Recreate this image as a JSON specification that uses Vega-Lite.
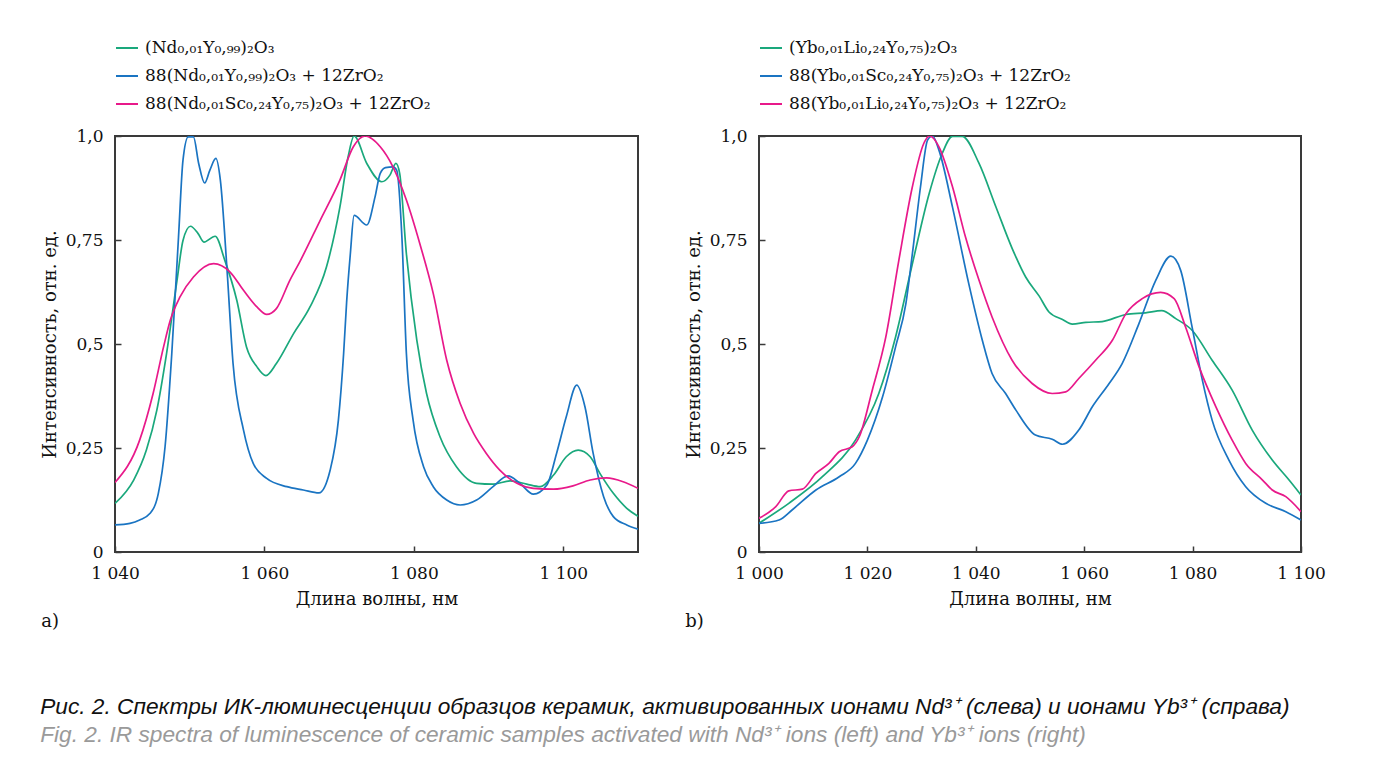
{
  "$schema": "https://vega.github.io/schema/vega-lite/v6.json",
  "background": "white",
  "padding": {"left": 40, "top": 35, "right": 5, "bottom": 5},
  "datasets": {
    "left": [
      {"wl": 1040, "i": 0.117, "s": "g"}, {"wl": 1042.5, "i": 0.173, "s": "g"}, {"wl": 1044.2, "i": 0.245, "s": "g"}, {"wl": 1045.6, "i": 0.341, "s": "g"}, {"wl": 1046.9, "i": 0.477, "s": "g"}, {"wl": 1048.3, "i": 0.653, "s": "g"}, {"wl": 1049.1, "i": 0.749, "s": "g"}, {"wl": 1050.1, "i": 0.783, "s": "g"}, {"wl": 1051.1, "i": 0.766, "s": "g"}, {"wl": 1051.9, "i": 0.745, "s": "g"}, {"wl": 1053.4, "i": 0.759, "s": "g"}, {"wl": 1054.7, "i": 0.701, "s": "g"}, {"wl": 1056.3, "i": 0.605, "s": "g"}, {"wl": 1057.6, "i": 0.493, "s": "g"}, {"wl": 1059.0, "i": 0.445, "s": "g"}, {"wl": 1060.2, "i": 0.424, "s": "g"}, {"wl": 1061.6, "i": 0.453, "s": "g"}, {"wl": 1063.9, "i": 0.525, "s": "g"}, {"wl": 1066.1, "i": 0.589, "s": "g"}, {"wl": 1068.3, "i": 0.685, "s": "g"}, {"wl": 1070.1, "i": 0.829, "s": "g"}, {"wl": 1071.2, "i": 0.95, "s": "g"}, {"wl": 1072.0, "i": 1.0, "s": "g"}, {"wl": 1073.7, "i": 0.934, "s": "g"}, {"wl": 1075.7, "i": 0.89, "s": "g"}, {"wl": 1076.8, "i": 0.906, "s": "g"}, {"wl": 1077.6, "i": 0.934, "s": "g"}, {"wl": 1078.1, "i": 0.91, "s": "g"}, {"wl": 1079.0, "i": 0.717, "s": "g"}, {"wl": 1080.4, "i": 0.509, "s": "g"}, {"wl": 1081.7, "i": 0.381, "s": "g"}, {"wl": 1083.5, "i": 0.277, "s": "g"}, {"wl": 1085.7, "i": 0.205, "s": "g"}, {"wl": 1088.4, "i": 0.165, "s": "g"}, {"wl": 1090.6, "i": 0.163, "s": "g"}, {"wl": 1092.9, "i": 0.171, "s": "g"}, {"wl": 1095.1, "i": 0.163, "s": "g"}, {"wl": 1096.9, "i": 0.157, "s": "g"}, {"wl": 1098.7, "i": 0.185, "s": "g"}, {"wl": 1100.4, "i": 0.229, "s": "g"}, {"wl": 1102.0, "i": 0.245, "s": "g"}, {"wl": 1103.6, "i": 0.229, "s": "g"}, {"wl": 1104.9, "i": 0.189, "s": "g"}, {"wl": 1106.7, "i": 0.141, "s": "g"}, {"wl": 1108.5, "i": 0.105, "s": "g"}, {"wl": 1110, "i": 0.086, "s": "g"},
      {"wl": 1040, "i": 0.065, "s": "b"}, {"wl": 1042.0, "i": 0.069, "s": "b"}, {"wl": 1043.3, "i": 0.077, "s": "b"}, {"wl": 1044.7, "i": 0.093, "s": "b"}, {"wl": 1045.8, "i": 0.141, "s": "b"}, {"wl": 1046.7, "i": 0.253, "s": "b"}, {"wl": 1047.6, "i": 0.477, "s": "b"}, {"wl": 1048.5, "i": 0.757, "s": "b"}, {"wl": 1049.1, "i": 0.942, "s": "b"}, {"wl": 1049.8, "i": 0.998, "s": "b"}, {"wl": 1050.5, "i": 0.998, "s": "b"}, {"wl": 1051.2, "i": 0.934, "s": "b"}, {"wl": 1052.0, "i": 0.887, "s": "b"}, {"wl": 1052.7, "i": 0.918, "s": "b"}, {"wl": 1053.5, "i": 0.946, "s": "b"}, {"wl": 1054.1, "i": 0.894, "s": "b"}, {"wl": 1055.0, "i": 0.677, "s": "b"}, {"wl": 1055.8, "i": 0.453, "s": "b"}, {"wl": 1057.2, "i": 0.293, "s": "b"}, {"wl": 1058.5, "i": 0.213, "s": "b"}, {"wl": 1060.3, "i": 0.177, "s": "b"}, {"wl": 1063.0, "i": 0.157, "s": "b"}, {"wl": 1065.2, "i": 0.149, "s": "b"}, {"wl": 1067.3, "i": 0.142, "s": "b"}, {"wl": 1068.8, "i": 0.197, "s": "b"}, {"wl": 1069.9, "i": 0.317, "s": "b"}, {"wl": 1070.6, "i": 0.477, "s": "b"}, {"wl": 1071.0, "i": 0.6, "s": "b"}, {"wl": 1071.5, "i": 0.717, "s": "b"}, {"wl": 1072.0, "i": 0.809, "s": "b"}, {"wl": 1073.7, "i": 0.786, "s": "b"}, {"wl": 1074.8, "i": 0.853, "s": "b"}, {"wl": 1075.5, "i": 0.91, "s": "b"}, {"wl": 1076.2, "i": 0.924, "s": "b"}, {"wl": 1077.2, "i": 0.926, "s": "b"}, {"wl": 1077.7, "i": 0.918, "s": "b"}, {"wl": 1078.4, "i": 0.757, "s": "b"}, {"wl": 1079.0, "i": 0.477, "s": "b"}, {"wl": 1079.9, "i": 0.317, "s": "b"}, {"wl": 1081.3, "i": 0.205, "s": "b"}, {"wl": 1082.6, "i": 0.157, "s": "b"}, {"wl": 1084.4, "i": 0.125, "s": "b"}, {"wl": 1086.2, "i": 0.113, "s": "b"}, {"wl": 1088.4, "i": 0.125, "s": "b"}, {"wl": 1090.6, "i": 0.157, "s": "b"}, {"wl": 1092.6, "i": 0.183, "s": "b"}, {"wl": 1094.2, "i": 0.165, "s": "b"}, {"wl": 1096.0, "i": 0.139, "s": "b"}, {"wl": 1097.8, "i": 0.161, "s": "b"}, {"wl": 1099.1, "i": 0.237, "s": "b"}, {"wl": 1100.4, "i": 0.325, "s": "b"}, {"wl": 1101.8, "i": 0.401, "s": "b"}, {"wl": 1102.9, "i": 0.349, "s": "b"}, {"wl": 1104.0, "i": 0.237, "s": "b"}, {"wl": 1105.4, "i": 0.133, "s": "b"}, {"wl": 1106.7, "i": 0.085, "s": "b"}, {"wl": 1108.5, "i": 0.065, "s": "b"}, {"wl": 1110, "i": 0.055, "s": "b"},
      {"wl": 1040, "i": 0.167, "s": "p"}, {"wl": 1043.3, "i": 0.269, "s": "p"}, {"wl": 1045.1, "i": 0.381, "s": "p"}, {"wl": 1046.5, "i": 0.493, "s": "p"}, {"wl": 1047.4, "i": 0.557, "s": "p"}, {"wl": 1048.7, "i": 0.613, "s": "p"}, {"wl": 1050.5, "i": 0.661, "s": "p"}, {"wl": 1053.2, "i": 0.693, "s": "p"}, {"wl": 1055.4, "i": 0.673, "s": "p"}, {"wl": 1057.2, "i": 0.629, "s": "p"}, {"wl": 1059.0, "i": 0.589, "s": "p"}, {"wl": 1060.3, "i": 0.571, "s": "p"}, {"wl": 1061.6, "i": 0.585, "s": "p"}, {"wl": 1063.4, "i": 0.653, "s": "p"}, {"wl": 1064.8, "i": 0.7, "s": "p"}, {"wl": 1067.4, "i": 0.795, "s": "p"}, {"wl": 1070.1, "i": 0.894, "s": "p"}, {"wl": 1071.9, "i": 0.974, "s": "p"}, {"wl": 1073.5, "i": 1.0, "s": "p"}, {"wl": 1075.5, "i": 0.974, "s": "p"}, {"wl": 1077.2, "i": 0.926, "s": "p"}, {"wl": 1079.0, "i": 0.846, "s": "p"}, {"wl": 1080.8, "i": 0.741, "s": "p"}, {"wl": 1082.6, "i": 0.621, "s": "p"}, {"wl": 1084.4, "i": 0.461, "s": "p"}, {"wl": 1086.2, "i": 0.357, "s": "p"}, {"wl": 1088.0, "i": 0.285, "s": "p"}, {"wl": 1089.7, "i": 0.237, "s": "p"}, {"wl": 1091.5, "i": 0.197, "s": "p"}, {"wl": 1093.8, "i": 0.165, "s": "p"}, {"wl": 1096.0, "i": 0.153, "s": "p"}, {"wl": 1098.7, "i": 0.151, "s": "p"}, {"wl": 1101.3, "i": 0.159, "s": "p"}, {"wl": 1103.6, "i": 0.173, "s": "p"}, {"wl": 1105.8, "i": 0.178, "s": "p"}, {"wl": 1108.0, "i": 0.169, "s": "p"}, {"wl": 1110, "i": 0.153, "s": "p"}
    ],
    "right": [
      {"wl": 1000, "i": 0.069, "s": "g"}, {"wl": 1005.5, "i": 0.117, "s": "g"}, {"wl": 1011.7, "i": 0.181, "s": "g"}, {"wl": 1017.8, "i": 0.269, "s": "g"}, {"wl": 1022.1, "i": 0.381, "s": "g"}, {"wl": 1025.2, "i": 0.517, "s": "g"}, {"wl": 1028.3, "i": 0.693, "s": "g"}, {"wl": 1031.4, "i": 0.862, "s": "g"}, {"wl": 1033.8, "i": 0.958, "s": "g"}, {"wl": 1035.7, "i": 0.999, "s": "g"}, {"wl": 1037.5, "i": 0.999, "s": "g"}, {"wl": 1040.6, "i": 0.934, "s": "g"}, {"wl": 1043.7, "i": 0.83, "s": "g"}, {"wl": 1046.7, "i": 0.73, "s": "g"}, {"wl": 1049.2, "i": 0.661, "s": "g"}, {"wl": 1051.7, "i": 0.615, "s": "g"}, {"wl": 1053.5, "i": 0.577, "s": "g"}, {"wl": 1056.0, "i": 0.559, "s": "g"}, {"wl": 1057.8, "i": 0.548, "s": "g"}, {"wl": 1060.3, "i": 0.552, "s": "g"}, {"wl": 1063.3, "i": 0.554, "s": "g"}, {"wl": 1067.7, "i": 0.571, "s": "g"}, {"wl": 1071.3, "i": 0.575, "s": "g"}, {"wl": 1074.3, "i": 0.58, "s": "g"}, {"wl": 1076.9, "i": 0.561, "s": "g"}, {"wl": 1079.9, "i": 0.533, "s": "g"}, {"wl": 1083.6, "i": 0.461, "s": "g"}, {"wl": 1087.3, "i": 0.389, "s": "g"}, {"wl": 1091.0, "i": 0.293, "s": "g"}, {"wl": 1094.7, "i": 0.221, "s": "g"}, {"wl": 1097.8, "i": 0.173, "s": "g"}, {"wl": 1100, "i": 0.137, "s": "g"},
      {"wl": 1000, "i": 0.069, "s": "b"}, {"wl": 1003.7, "i": 0.077, "s": "b"}, {"wl": 1006.1, "i": 0.101, "s": "b"}, {"wl": 1010.5, "i": 0.149, "s": "b"}, {"wl": 1014.8, "i": 0.181, "s": "b"}, {"wl": 1017.8, "i": 0.213, "s": "b"}, {"wl": 1020.0, "i": 0.269, "s": "b"}, {"wl": 1022.8, "i": 0.373, "s": "b"}, {"wl": 1025.2, "i": 0.493, "s": "b"}, {"wl": 1027.1, "i": 0.597, "s": "b"}, {"wl": 1028.3, "i": 0.717, "s": "b"}, {"wl": 1029.8, "i": 0.878, "s": "b"}, {"wl": 1031.1, "i": 0.99, "s": "b"}, {"wl": 1032.0, "i": 1.0, "s": "b"}, {"wl": 1033.2, "i": 0.966, "s": "b"}, {"wl": 1035.7, "i": 0.829, "s": "b"}, {"wl": 1038.7, "i": 0.645, "s": "b"}, {"wl": 1041.2, "i": 0.509, "s": "b"}, {"wl": 1043.0, "i": 0.429, "s": "b"}, {"wl": 1045.5, "i": 0.381, "s": "b"}, {"wl": 1047.4, "i": 0.341, "s": "b"}, {"wl": 1051.0, "i": 0.281, "s": "b"}, {"wl": 1054.1, "i": 0.271, "s": "b"}, {"wl": 1056.0, "i": 0.259, "s": "b"}, {"wl": 1059.0, "i": 0.293, "s": "b"}, {"wl": 1061.5, "i": 0.349, "s": "b"}, {"wl": 1064.6, "i": 0.405, "s": "b"}, {"wl": 1067.0, "i": 0.453, "s": "b"}, {"wl": 1070.1, "i": 0.549, "s": "b"}, {"wl": 1073.2, "i": 0.653, "s": "b"}, {"wl": 1076.0, "i": 0.711, "s": "b"}, {"wl": 1077.8, "i": 0.677, "s": "b"}, {"wl": 1079.9, "i": 0.541, "s": "b"}, {"wl": 1081.8, "i": 0.413, "s": "b"}, {"wl": 1083.6, "i": 0.317, "s": "b"}, {"wl": 1086.7, "i": 0.221, "s": "b"}, {"wl": 1089.8, "i": 0.157, "s": "b"}, {"wl": 1093.5, "i": 0.117, "s": "b"}, {"wl": 1097.2, "i": 0.097, "s": "b"}, {"wl": 1100, "i": 0.077, "s": "b"},
      {"wl": 1000, "i": 0.081, "s": "p"}, {"wl": 1003.1, "i": 0.109, "s": "p"}, {"wl": 1005.5, "i": 0.147, "s": "p"}, {"wl": 1008.0, "i": 0.151, "s": "p"}, {"wl": 1010.5, "i": 0.189, "s": "p"}, {"wl": 1012.9, "i": 0.213, "s": "p"}, {"wl": 1014.8, "i": 0.241, "s": "p"}, {"wl": 1017.2, "i": 0.253, "s": "p"}, {"wl": 1018.5, "i": 0.277, "s": "p"}, {"wl": 1020.9, "i": 0.389, "s": "p"}, {"wl": 1023.4, "i": 0.517, "s": "p"}, {"wl": 1025.8, "i": 0.701, "s": "p"}, {"wl": 1028.3, "i": 0.878, "s": "p"}, {"wl": 1030.4, "i": 0.982, "s": "p"}, {"wl": 1031.5, "i": 1.0, "s": "p"}, {"wl": 1033.2, "i": 0.974, "s": "p"}, {"wl": 1035.7, "i": 0.878, "s": "p"}, {"wl": 1038.1, "i": 0.757, "s": "p"}, {"wl": 1040.6, "i": 0.653, "s": "p"}, {"wl": 1043.0, "i": 0.565, "s": "p"}, {"wl": 1046.7, "i": 0.461, "s": "p"}, {"wl": 1050.4, "i": 0.405, "s": "p"}, {"wl": 1054.1, "i": 0.381, "s": "p"}, {"wl": 1056.6, "i": 0.385, "s": "p"}, {"wl": 1059.0, "i": 0.417, "s": "p"}, {"wl": 1062.1, "i": 0.461, "s": "p"}, {"wl": 1065.2, "i": 0.509, "s": "p"}, {"wl": 1067.7, "i": 0.573, "s": "p"}, {"wl": 1070.7, "i": 0.609, "s": "p"}, {"wl": 1074.1, "i": 0.624, "s": "p"}, {"wl": 1076.6, "i": 0.609, "s": "p"}, {"wl": 1078.7, "i": 0.541, "s": "p"}, {"wl": 1081.2, "i": 0.445, "s": "p"}, {"wl": 1084.3, "i": 0.349, "s": "p"}, {"wl": 1087.3, "i": 0.269, "s": "p"}, {"wl": 1089.8, "i": 0.213, "s": "p"}, {"wl": 1092.9, "i": 0.173, "s": "p"}, {"wl": 1094.7, "i": 0.149, "s": "p"}, {"wl": 1097.2, "i": 0.133, "s": "p"}, {"wl": 1100, "i": 0.097, "s": "p"}
    ]
  },
  "title": {
    "text": "Рис. 2. Спектры ИК-люминесценции образцов керамик, активированных ионами Nd³⁺ (слева) и ионами Yb³⁺ (справа)",
    "subtitle": "Fig. 2. IR spectra of luminescence of ceramic samples activated with Nd³⁺ ions (left) and Yb³⁺ ions (right)",
    "orient": "bottom",
    "anchor": "start",
    "frame": "bounds",
    "offset": 64,
    "font": "Liberation Sans",
    "fontStyle": "italic",
    "fontWeight": "normal",
    "fontSize": 22.7,
    "color": "#111111",
    "subtitleFont": "Liberation Sans",
    "subtitleFontStyle": "italic",
    "subtitleFontSize": 22.7,
    "subtitleColor": "#9a9a9a",
    "subtitlePadding": 5
  },
  "hconcat": [
    {
      "width": 523,
      "height": 416,
      "data": {"name": "left"},
      "title": {"text": "a)", "orient": "bottom", "anchor": "start", "frame": "bounds", "offset": 5},
      "mark": {"type": "line", "interpolate": "monotone", "strokeWidth": 1.7, "clip": true},
      "encoding": {
        "x": {"field": "wl", "type": "quantitative", "scale": {"domain": [1040, 1110], "nice": false, "zero": false},
              "axis": {"title": "Длина волны, нм", "values": [1040, 1060, 1080, 1100], "labelExpr": "replace(format(datum.value, ','), ',', ' ')"}},
        "y": {"field": "i", "type": "quantitative", "scale": {"domain": [0, 1], "nice": false},
              "axis": {"title": "Интенсивность, отн. ед.", "values": [0, 0.25, 0.5, 0.75, 1], "labelExpr": "datum.value == 1 ? '1,0' : replace(toString(datum.value), '.', ',')"}},
        "color": {"field": "s", "type": "nominal",
                  "scale": {"domain": ["g", "b", "p"], "range": ["#1aa87c", "#1a74c2", "#e8198a"]},
                  "legend": {"labelExpr": "datum.label == 'g' ? '(Nd₀,₀₁Y₀,₉₉)₂O₃' : datum.label == 'b' ? '88(Nd₀,₀₁Y₀,₉₉)₂O₃ + 12ZrO₂' : '88(Nd₀,₀₁Sc₀,₂₄Y₀,₇₅)₂O₃ + 12ZrO₂'"}}
      }
    },
    {
      "width": 542,
      "height": 416,
      "data": {"name": "right"},
      "title": {"text": "b)", "orient": "bottom", "anchor": "start", "frame": "bounds", "offset": 5},
      "mark": {"type": "line", "interpolate": "monotone", "strokeWidth": 1.7, "clip": true},
      "encoding": {
        "x": {"field": "wl", "type": "quantitative", "scale": {"domain": [1000, 1100], "nice": false, "zero": false},
              "axis": {"title": "Длина волны, нм", "values": [1000, 1020, 1040, 1060, 1080, 1100], "labelExpr": "replace(format(datum.value, ','), ',', ' ')"}},
        "y": {"field": "i", "type": "quantitative", "scale": {"domain": [0, 1], "nice": false},
              "axis": {"title": "Интенсивность, отн. ед.", "values": [0, 0.25, 0.5, 0.75, 1], "labelExpr": "datum.value == 1 ? '1,0' : replace(toString(datum.value), '.', ',')"}},
        "color": {"field": "s", "type": "nominal",
                  "scale": {"domain": ["g", "b", "p"], "range": ["#1aa87c", "#1a74c2", "#e8198a"]},
                  "legend": {"labelExpr": "datum.label == 'g' ? '(Yb₀,₀₁Li₀,₂₄Y₀,₇₅)₂O₃' : datum.label == 'b' ? '88(Yb₀,₀₁Sc₀,₂₄Y₀,₇₅)₂O₃ + 12ZrO₂' : '88(Yb₀,₀₁Li₀,₂₄Y₀,₇₅)₂O₃ + 12ZrO₂'"}}
      }
    }
  ],
  "spacing": 45,
  "resolve": {"scale": {"x": "independent", "y": "independent", "color": "independent"}, "legend": {"color": "independent"}, "axis": {"x": "independent", "y": "independent"}},
  "config": {
    "font": "DejaVu Serif",
    "view": {"stroke": "#3a3a3a", "strokeWidth": 2},
    "axis": {
      "domain": false, "grid": false,
      "ticks": true, "tickColor": "#3a3a3a", "tickSize": -6, "tickWidth": 1.5,
      "labelFont": "DejaVu Serif", "labelFontSize": 17, "labelColor": "#111111", "labelFlush": false, "labelOverlap": false,
      "titleFont": "DejaVu Serif", "titleFontSize": 18, "titleFontWeight": "normal", "titleColor": "#111111"
    },
    "axisX": {"labelPadding": 19, "titlePadding": 9},
    "axisY": {"labelPadding": 18, "titlePadding": 6},
    "legend": {
      "orient": "none", "legendX": 0, "legendY": -100, "title": null,
      "symbolType": "stroke", "symbolSize": 484, "symbolStrokeWidth": 2,
      "labelFont": "DejaVu Serif", "labelFontSize": 17, "labelColor": "#111111", "labelOffset": 6, "labelLimit": 600,
      "rowPadding": 8, "padding": 0
    },
    "title": {"font": "DejaVu Serif", "fontSize": 18, "fontWeight": "normal", "color": "#111111"}
  }
}
